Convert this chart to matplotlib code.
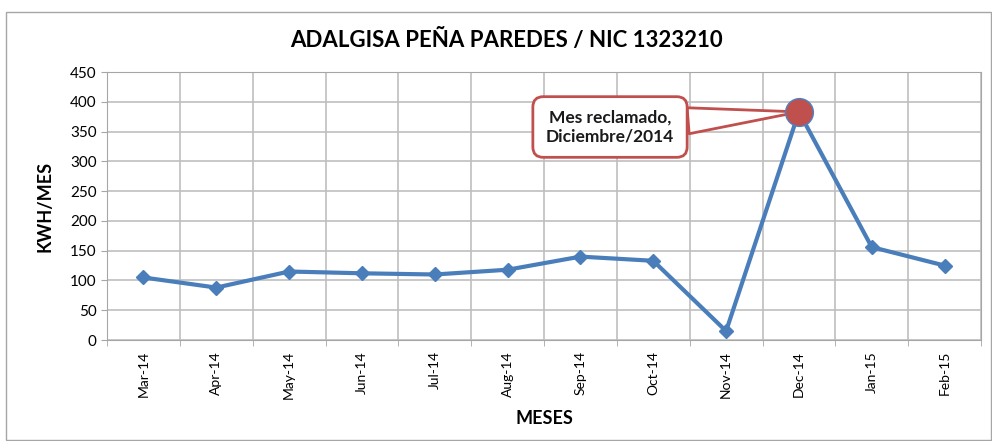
import matplotlib
matplotlib.use("Agg")
import matplotlib.pyplot as plt
from matplotlib.patches import Rectangle
import numpy as np

months = ["Mar-14", "Apr-14", "May-14", "Jun-14", "Jul-14", "Aug-14",
          "Sep-14", "Oct-14", "Nov-14", "Dec-14", "Jan-15", "Feb-15"]
kwh = [105, 88, 115, 112, 110, 118, 140, 133, 15, 383, 156, 125]
yticks = [0, 50, 100, 150, 200, 250, 300, 350, 400, 450]
highlight_month = "Dec-14"
title = "ADALGISA PEÑA PAREDES / NIC 1323210"
callout = "Mes reclamado,\nDiciembre/2014"

plt.rcParams['font.family'] = ['Lato', 'DejaVu Sans']

fig = plt.figure(figsize=(9.92, 4.41), dpi=100)
fig.patches.append(Rectangle((6/992, 1/441), 985/992, 428/441, transform=fig.transFigure,
                             fill=False, ec="#a6a6a6", lw=1))
ax = fig.add_axes([107/992, 1-340/441, (981-107)/992, (340-72)/441])

x = np.arange(len(months))
ax.plot(x, kwh, color="#4a7ebb", lw=3, marker="D", ms=7, mfc="#4a7ebb", mec="#4a7ebb", zorder=3)
hi = months.index(highlight_month)
ax.plot([x[hi]], [kwh[hi]], marker="o", ms=20, mfc="#c0504d", mec="#4f81bd", mew=1, zorder=6)

ax.set_xlim(-0.5, len(months) - 0.5)
ax.set_ylim(0, 450)
ax.set_yticks(yticks)
ax.set_xticks(x)
ax.set_xticklabels(months, rotation=90, fontsize=10)
ax.set_xticks(np.arange(-0.5, len(months)), minor=True)
ax.tick_params(axis="x", which="major", length=0, pad=8)
ax.tick_params(axis="x", which="minor", length=4, color="#a6a6a6")
ax.tick_params(axis="y", length=4, color="#a6a6a6", labelsize=11)
ax.grid(axis="y", which="major", color="#bfbfbf", lw=1.2)
ax.grid(axis="x", which="minor", color="#bfbfbf", lw=1.2)
ax.set_axisbelow(True)
for s in ax.spines.values():
    s.set_color("#a6a6a6")

ax.set_ylabel("KWH/MES", fontsize=13, fontweight="bold", labelpad=12)
ax.set_xlabel("MESES", fontsize=13, fontweight="bold", labelpad=8)
fig.text(0.511, 1-40/441, title, ha="center", va="center", fontsize=16, fontweight="bold")

ax.annotate(callout, xy=(x[hi], kwh[hi]), xytext=(610/992, 1-127/441), textcoords="figure fraction",
            ha="center", va="center", fontsize=12.5, fontweight="bold", color="#1a1a1a",
            bbox=dict(boxstyle="round,pad=0.75,rounding_size=0.6", fc="white", ec="#c0504d", lw=2),
            arrowprops=dict(arrowstyle="wedge,tail_width=1.5,shrink_factor=0.5", fc="white",
                            ec="#c0504d", lw=2, shrinkA=0, shrinkB=0),
            zorder=5)

fig.savefig("out.png", dpi=100)
